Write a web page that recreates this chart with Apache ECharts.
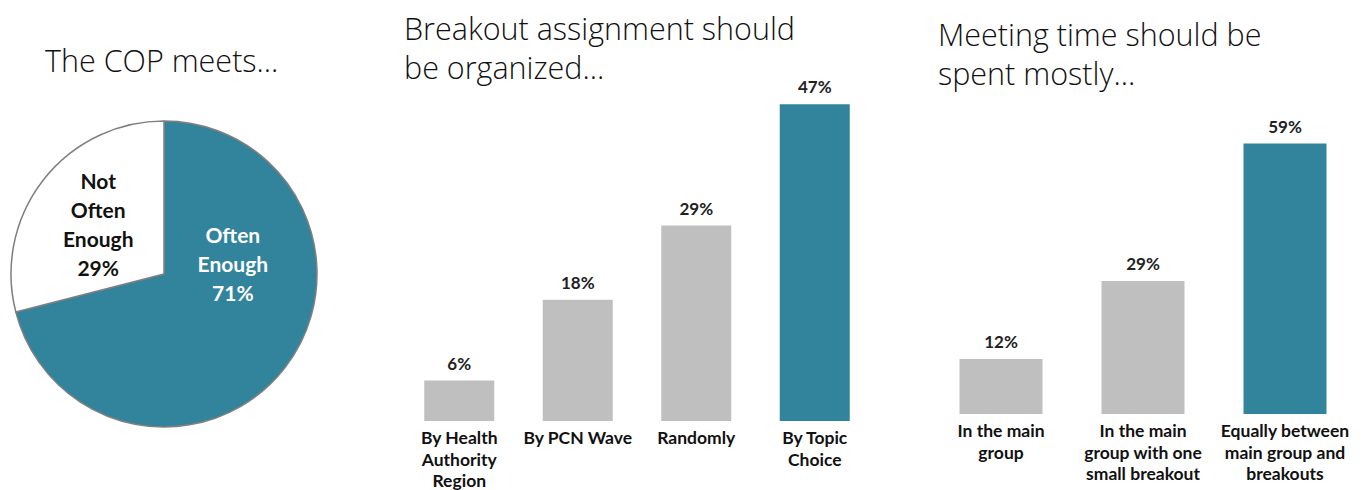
<!DOCTYPE html>
<html><head><meta charset="utf-8">
<script src="https://cdn.jsdelivr.net/npm/echarts@6/dist/echarts.min.js"></script>
<style>html,body{margin:0;padding:0;background:#fff}#c{width:1368px;height:490px}</style>
</head><body><div id="c"></div>
<script>
const pieTitle = 'The COP meets...';
const pieNames = ['Often\nEnough', 'Not\nOften\nEnough'];
const pieValues = [71, 29];

const bar1Title = 'Breakout assignment should\nbe organized...';
const bar1Cats = ['By Health\nAuthority\nRegion', 'By PCN Wave', 'Randomly', 'By Topic\nChoice'];
const bar1Values = [6, 18, 29, 47];

const bar2Title = 'Meeting time should be\nspent mostly...';
const bar2Cats = ['In the main\ngroup', 'In the main\ngroup with one\nsmall breakout', 'Equally between\nmain group and\nbreakouts'];
const bar2Values = [12, 29, 59];

const TEAL = '#31849B', GRAY = '#BFBFBF';
const FONT = 'Lato, "Open Sans", sans-serif';
const TFONT = '"Open Sans", Lato, sans-serif';
const chart = echarts.init(document.getElementById('c'), null, {renderer: 'svg'});

const maxIdx = arr => arr.indexOf(Math.max(...arr));
const barData = vals => vals.map((v, i) => ({value: v, itemStyle: {color: i === maxIdx(vals) ? TEAL : GRAY}}));

const pieCenter = [164, 274], pieR = 153;
const titleStyle = {fontFamily: TFONT, fontSize: 30.5, fontWeight: 300, color: '#111', lineHeight: 39};
const catLabel = {interval: 0, fontFamily: FONT, fontSize: 17.5, fontWeight: 'bold', color: '#111', lineHeight: 21.5};
const valLabel = {show: true, position: 'top', distance: 9, formatter: '{c}%', fontFamily: FONT, fontSize: 17, fontWeight: 'bold', color: '#222'};

chart.setOption({
  animation: false,
  title: [
    {text: pieTitle, left: 45, top: 40, padding: 0, textStyle: titleStyle},
    {text: bar1Title, left: 404, top: 8, padding: 0, textStyle: titleStyle},
    {text: bar2Title, left: 938, top: 14, padding: 0, textStyle: titleStyle}
  ],
  grid: [
    {left: 400, width: 474, top: 84, bottom: 69, outerBoundsMode: 'none', containLabel: false},
    {left: 930, width: 426, top: 139, bottom: 76, outerBoundsMode: 'none', containLabel: false}
  ],
  xAxis: [
    {type: 'category', gridIndex: 0, data: bar1Cats, axisLine: {show: false}, axisTick: {show: false},
     axisLabel: Object.assign({margin: 6}, catLabel)},
    {type: 'category', gridIndex: 1, data: bar2Cats, axisLine: {show: false}, axisTick: {show: false},
     axisLabel: Object.assign({margin: 6}, catLabel)}
  ],
  yAxis: [
    {type: 'value', gridIndex: 0, min: 0, max: 50, show: false, splitLine: {show: false}},
    {type: 'value', gridIndex: 1, min: 0, max: 60, show: false, splitLine: {show: false}}
  ],
  series: [
    {type: 'pie', center: pieCenter, radius: pieR, startAngle: 90, clockwise: true,
     label: {show: false}, labelLine: {show: false}, emphasis: {disabled: true},
     itemStyle: {borderColor: '#7f7f7f', borderWidth: 1.5},
     data: pieNames.map((n, i) => ({name: n, value: pieValues[i], itemStyle: {color: i === 0 ? TEAL : '#fff'}}))},
    {type: 'bar', xAxisIndex: 0, yAxisIndex: 0, barWidth: 70, data: barData(bar1Values), label: valLabel},
    {type: 'bar', xAxisIndex: 1, yAxisIndex: 1, barWidth: 83, data: barData(bar2Values), label: valLabel}
  ],
  graphic: [
    {type: 'text', z: 100, x: pieCenter[0] + pieR * 0.45, y: pieCenter[1] - pieR * 0.07, silent: true,
     style: {text: pieNames[0] + '\n' + pieValues[0] + '%', fill: '#fff', fontFamily: FONT, fontSize: 21, fontWeight: 'bold', lineHeight: 29, align: 'center', verticalAlign: 'middle'}},
    {type: 'text', z: 100, x: pieCenter[0] - pieR * 0.43, y: pieCenter[1] - pieR * 0.33, silent: true,
     style: {text: pieNames[1] + '\n' + pieValues[1] + '%', fill: '#111', fontFamily: FONT, fontSize: 21, fontWeight: 'bold', lineHeight: 29, align: 'center', verticalAlign: 'middle'}}
  ]
});
</script></body></html>
